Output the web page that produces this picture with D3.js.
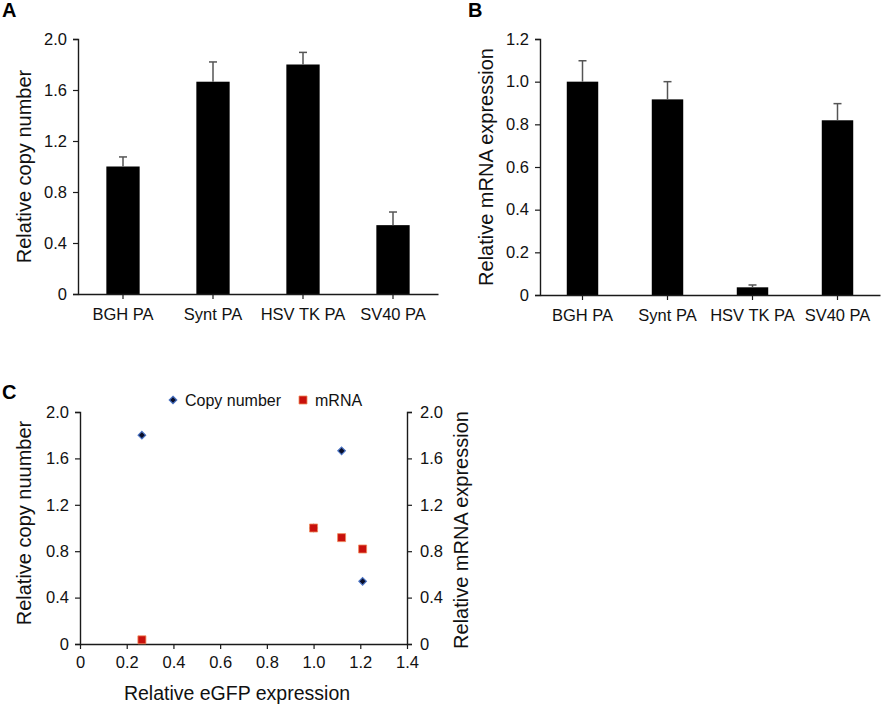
<!DOCTYPE html>
<html>
<head>
<meta charset="utf-8">
<script src="https://cdn.jsdelivr.net/npm/d3@7"></script>
<style>
	body { margin: 0; background: #fff; }
	svg { font-family: "Liberation Sans", Arial, sans-serif; }
</style>
</head>
<body>
<div id="chart"></div>
<script>
// Data
const categories = ["BGH PA", "Synt PA", "HSV TK PA", "SV40 PA"];

const copyNumber = [1.0, 1.665, 1.80, 0.54];
const copyNumberErr = [0.075, 0.155, 0.095, 0.103];

const mrnaExpression = [1.0, 0.917, 0.036, 0.819];
const mrnaErr = [0.098, 0.083, 0.011, 0.078];

const egfpExpression = [1.0, 1.12, 0.265, 1.21];

const ticksA = [0, 0.4, 0.8, 1.2, 1.6, 2.0];
const ticksB = [0, 0.2, 0.4, 0.6, 0.8, 1.0, 1.2];
const ticksCx = [0, 0.2, 0.4, 0.6, 0.8, 1.0, 1.2, 1.4];
const ticksCy = [0, 0.4, 0.8, 1.2, 1.6, 2.0];

const width = 886;
const height = 706;
const axisColor = "#1a1a1a";

const svg = d3.select("#chart").append("svg")
	.attr("width", width)
	.attr("height", height);

const fmt = d => d === 0 ? "0" : d3.format(".1f")(d);

function styleAxis(g) {
	g.select(".domain").attr("stroke", axisColor).attr("stroke-width", 1.4);
	g.selectAll(".tick line").attr("stroke", axisColor).attr("stroke-width", 1.2);
	g.selectAll(".tick text").attr("fill", "#111").attr("font-size", "16.5px");
}

function panelLabel(text, x, y) {
	svg.append("text")
		.attr("x", x)
		.attr("y", y)
		.attr("font-size", "20px")
		.attr("font-weight", "bold")
		.text(text);
}

function drawBarPanel(opts) {
	const { left, right, top, bottom, values, errors, ticks, yMax, title, titleX } = opts;

	const x = d3.scaleBand()
		.domain(categories)
		.range([left, right])
		.paddingInner(0.63)
		.paddingOuter(0.315);

	const y = d3.scaleLinear()
		.domain([0, yMax])
		.range([bottom, top]);

	// Bars
	svg.append("g")
		.selectAll("rect")
		.data(values)
		.join("rect")
		.attr("x", (d, i) => x(categories[i]))
		.attr("y", d => y(d))
		.attr("width", x.bandwidth())
		.attr("height", d => bottom - y(d))
		.attr("fill", "#000");

	// Error bars, upper half only
	const err = svg.append("g")
		.attr("stroke", "#555")
		.attr("stroke-width", 1.5);

	err.selectAll("line.stem")
		.data(values)
		.join("line")
		.attr("class", "stem")
		.attr("x1", (d, i) => x(categories[i]) + x.bandwidth() / 2)
		.attr("x2", (d, i) => x(categories[i]) + x.bandwidth() / 2)
		.attr("y1", d => y(d))
		.attr("y2", (d, i) => y(d + errors[i]));

	err.selectAll("line.cap")
		.data(values)
		.join("line")
		.attr("class", "cap")
		.attr("x1", (d, i) => x(categories[i]) + x.bandwidth() / 2 - 4)
		.attr("x2", (d, i) => x(categories[i]) + x.bandwidth() / 2 + 4)
		.attr("y1", (d, i) => y(d + errors[i]))
		.attr("y2", (d, i) => y(d + errors[i]));

	// Axes
	const yAxis = svg.append("g")
		.attr("transform", `translate(${left},0)`)
		.call(d3.axisLeft(y).tickValues(ticks).tickFormat(fmt).tickSizeInner(5).tickSizeOuter(5).tickPadding(6));
	styleAxis(yAxis);

	const xAxis = svg.append("g")
		.attr("transform", `translate(0,${bottom})`)
		.call(d3.axisBottom(x).tickSizeInner(5).tickSizeOuter(0).tickPadding(9));
	styleAxis(xAxis);

	svg.append("text")
		.attr("transform", `translate(${titleX},${(top + bottom) / 2}) rotate(-90)`)
		.attr("text-anchor", "middle")
		.attr("font-size", "20px")
		.attr("fill", "#111")
		.text(title);
}

// Panel A
panelLabel("A", 2, 17);
drawBarPanel({
	left: 78, right: 438, top: 39, bottom: 294,
	values: copyNumber, errors: copyNumberErr,
	ticks: ticksA, yMax: 2.0,
	title: "Relative copy number", titleX: 31
});

// Panel B
panelLabel("B", 468, 17);
drawBarPanel({
	left: 540, right: 880, top: 39, bottom: 295,
	values: mrnaExpression, errors: mrnaErr,
	ticks: ticksB, yMax: 1.2,
	title: "Relative mRNA expression", titleX: 493
});

// Panel C
panelLabel("C", 2, 399);

const cLeft = 80, cRight = 407, cTop = 412, cBottom = 644;

const xC = d3.scaleLinear().domain([0, 1.4]).range([cLeft, cRight]);
const yCopy = d3.scaleLinear().domain([0, 2.0]).range([cBottom, cTop]);
const yMrna = d3.scaleLinear().domain([0, 2.0]).range([cBottom, cTop]);

const cxAxis = svg.append("g")
	.attr("transform", `translate(0,${cBottom})`)
	.call(d3.axisBottom(xC).tickValues(ticksCx).tickFormat(fmt).tickSizeInner(5).tickSizeOuter(0).tickPadding(7));
styleAxis(cxAxis);

const cyAxis = svg.append("g")
	.attr("transform", `translate(${cLeft},0)`)
	.call(d3.axisLeft(yCopy).tickValues(ticksCy).tickFormat(fmt).tickSizeInner(5).tickSizeOuter(5).tickPadding(6));
styleAxis(cyAxis);

const cyAxisR = svg.append("g")
	.attr("transform", `translate(${cRight},0)`)
	.call(d3.axisRight(yMrna).tickValues(ticksCy).tickFormat(fmt).tickSizeInner(5).tickSizeOuter(5).tickPadding(8));
styleAxis(cyAxisR);

const diamond = d3.symbol().type(d3.symbolDiamond2).size(36);
const square = d3.symbol().type(d3.symbolSquare).size(64);

// Copy number points (diamonds), drawn first so squares sit on top
svg.append("g")
	.selectAll("path")
	.data(copyNumber)
	.join("path")
	.attr("d", diamond)
	.attr("transform", (d, i) => `translate(${xC(egfpExpression[i])},${yCopy(d)})`)
	.attr("fill", "#0a0f2a")
	.attr("stroke", "#4a73c4")
	.attr("stroke-width", 1.2);

// mRNA points (squares)
svg.append("g")
	.selectAll("path")
	.data(mrnaExpression)
	.join("path")
	.attr("d", square)
	.attr("transform", (d, i) => `translate(${xC(egfpExpression[i])},${yMrna(d)})`)
	.attr("fill", "#c8100c")
	.attr("stroke", "#f08a5a")
	.attr("stroke-width", 0.8);

// Legend
const legend = svg.append("g").attr("font-size", "16px").attr("fill", "#111");
legend.append("path")
	.attr("d", diamond)
	.attr("transform", "translate(173,400)")
	.attr("fill", "#0a0f2a")
	.attr("stroke", "#4a73c4")
	.attr("stroke-width", 1.2);
legend.append("text").attr("x", 185).attr("y", 405.5).text("Copy number");
legend.append("path")
	.attr("d", square)
	.attr("transform", "translate(303,400)")
	.attr("fill", "#c8100c")
	.attr("stroke", "#f08a5a")
	.attr("stroke-width", 0.8);
legend.append("text").attr("x", 315).attr("y", 405.5).text("mRNA");

// Axis titles
svg.append("text")
	.attr("transform", "translate(31,523) rotate(-90)")
	.attr("text-anchor", "middle")
	.attr("font-size", "20px")
	.attr("fill", "#111")
	.text("Relative copy nuumber");

svg.append("text")
	.attr("transform", "translate(468,530) rotate(-90)")
	.attr("text-anchor", "middle")
	.attr("font-size", "20px")
	.attr("fill", "#111")
	.text("Relative mRNA expression");

svg.append("text")
	.attr("x", 237)
	.attr("y", 700)
	.attr("text-anchor", "middle")
	.attr("font-size", "19.5px")
	.attr("fill", "#111")
	.text("Relative eGFP expression");
</script>
</body>
</html>
